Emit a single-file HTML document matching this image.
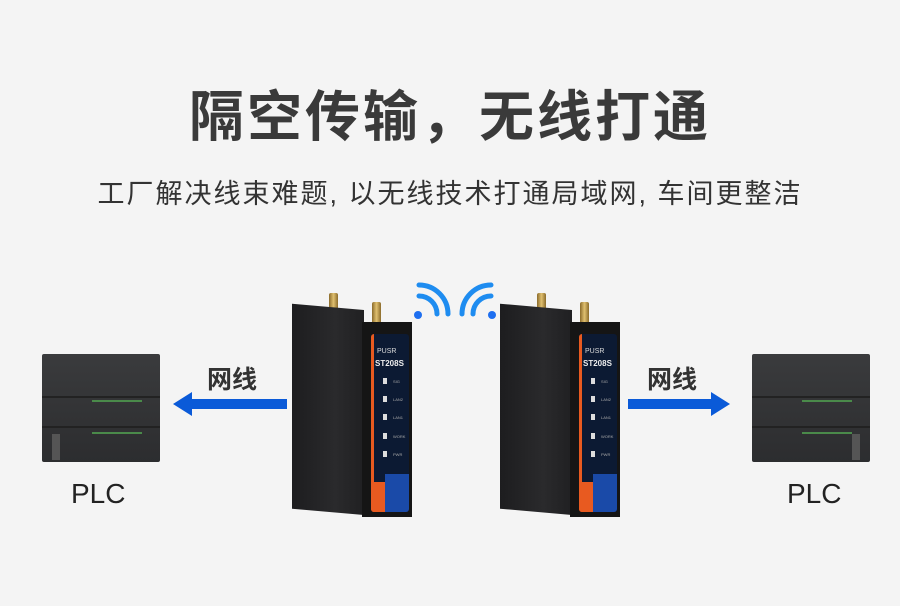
<!DOCTYPE html><html><head><meta charset="utf-8"><style>
body{margin:0;width:900px;height:606px;background:#f4f4f4;position:relative;overflow:hidden;font-family:"Liberation Sans","Noto Sans CJK SC",sans-serif}
.a{position:absolute}
.t{left:0;width:900px;text-align:center;color:#333}
.side{background:linear-gradient(90deg,#1d1d1f,#2a2a2c 60%,#202022);}
.front{background:#151515}
.panel{background:#0c1a33;border-radius:3px;overflow:hidden}
.led{position:absolute;width:4px;height:6px;background:#ddd;left:12px}
.lt{position:absolute;left:22px;font-size:4px;color:#aaa}
.ant{background:linear-gradient(90deg,#8a6a2a,#e0c070,#8a6a2a);border-radius:2px}
.plc{background:linear-gradient(180deg,#3a3b3d,#2c2d2f);border-radius:2px}
</style></head><body>
<div class="a t" style="top:72px;font-size:55px;font-weight:bold;letter-spacing:3px;color:#3a3a3a">隔空传输，无线打通</div>
<div class="a t" style="top:172px;font-size:27px;letter-spacing:2px">工厂解决线束难题, 以无线技术打通局域网, 车间更整洁</div>

<div>
<div class="a ant" style="left:329px;top:293px;width:9px;height:24px"></div>
<div class="a ant" style="left:372px;top:302px;width:9px;height:26px"></div>
<div class="a side" style="left:292px;top:310px;width:72px;height:205px;transform:skewY(5deg);transform-origin:right top"></div>
<div class="a front" style="left:362px;top:322px;width:50px;height:195px"></div>
<div class="a panel" style="left:371px;top:334px;width:38px;height:178px">
 <div class="a" style="left:0;top:0;width:3px;height:178px;background:#e85a20"></div>
 <div class="a" style="left:0;top:148px;width:14px;height:30px;background:#e85a20"></div>
 <div class="a" style="left:14px;top:140px;width:24px;height:38px;background:#1a4aa8"></div>
 <div class="a" style="left:6px;top:14px;font-size:7px;color:#ddd">PUSR</div>
 <div class="a" style="left:4px;top:25px;font-size:8px;font-weight:bold;color:#eee">ST208S</div>
 <div class="led" style="top:44px"></div><div class="lt" style="top:45px">SIG</div>
 <div class="led" style="top:62px"></div><div class="lt" style="top:63px">LAN2</div>
 <div class="led" style="top:80px"></div><div class="lt" style="top:81px">LAN1</div>
 <div class="led" style="top:99px"></div><div class="lt" style="top:100px">WORK</div>
 <div class="led" style="top:117px"></div><div class="lt" style="top:118px">PWR</div>
</div>
</div>
<div class="a" style="left:208px;top:0;width:900px;height:606px">
<div class="a ant" style="left:329px;top:293px;width:9px;height:24px"></div>
<div class="a ant" style="left:372px;top:302px;width:9px;height:26px"></div>
<div class="a side" style="left:292px;top:310px;width:72px;height:205px;transform:skewY(5deg);transform-origin:right top"></div>
<div class="a front" style="left:362px;top:322px;width:50px;height:195px"></div>
<div class="a panel" style="left:371px;top:334px;width:38px;height:178px">
 <div class="a" style="left:0;top:0;width:3px;height:178px;background:#e85a20"></div>
 <div class="a" style="left:0;top:148px;width:14px;height:30px;background:#e85a20"></div>
 <div class="a" style="left:14px;top:140px;width:24px;height:38px;background:#1a4aa8"></div>
 <div class="a" style="left:6px;top:14px;font-size:7px;color:#ddd">PUSR</div>
 <div class="a" style="left:4px;top:25px;font-size:8px;font-weight:bold;color:#eee">ST208S</div>
 <div class="led" style="top:44px"></div><div class="lt" style="top:45px">SIG</div>
 <div class="led" style="top:62px"></div><div class="lt" style="top:63px">LAN2</div>
 <div class="led" style="top:80px"></div><div class="lt" style="top:81px">LAN1</div>
 <div class="led" style="top:99px"></div><div class="lt" style="top:100px">WORK</div>
 <div class="led" style="top:117px"></div><div class="lt" style="top:118px">PWR</div>
</div>
</div>

<svg class="a" style="left:405px;top:280px" width="100" height="45" viewBox="0 0 100 45">
<g fill="none" stroke="#1e8cf0" stroke-width="5" stroke-linecap="round">
<path d="M14 16 A18 18 0 0 1 32 34"/><path d="M14 5 A29 29 0 0 1 43 34"/>
<path d="M86 16 A18 18 0 0 0 68 34"/><path d="M86 5 A29 29 0 0 0 57 34"/></g>
<circle cx="13" cy="35" r="4" fill="#1e6ff0"/><circle cx="87" cy="35" r="4" fill="#1e6ff0"/>
</svg>

<div class="a plc" style="left:42px;top:354px;width:118px;height:108px">
 <div class="a" style="left:0;top:42px;width:118px;height:2px;background:#222"></div>
 <div class="a" style="left:0;top:72px;width:118px;height:2px;background:#222"></div>
 <div class="a" style="left:50px;top:46px;width:50px;height:2px;background:#4a8a4a"></div>
 <div class="a" style="left:50px;top:78px;width:50px;height:2px;background:#4a8a4a"></div>
 <div class="a" style="left:10px;top:80px;width:8px;height:26px;background:#555"></div>
</div>
<div class="a plc" style="left:752px;top:354px;width:118px;height:108px">
 <div class="a" style="left:0;top:42px;width:118px;height:2px;background:#222"></div>
 <div class="a" style="left:0;top:72px;width:118px;height:2px;background:#222"></div>
 <div class="a" style="left:50px;top:46px;width:50px;height:2px;background:#4a8a4a"></div>
 <div class="a" style="left:50px;top:78px;width:50px;height:2px;background:#4a8a4a"></div>
 <div class="a" style="right:10px;top:80px;width:8px;height:26px;background:#555"></div>
</div>

<svg class="a" style="left:170px;top:390px" width="120" height="28"><polygon points="3,14 22,2 22,9 117,9 117,19 22,19 22,26" fill="#0a5ad8"/></svg>
<svg class="a" style="left:625px;top:390px" width="108" height="28"><polygon points="105,14 86,2 86,9 3,9 3,19 86,19 86,26" fill="#0a5ad8"/></svg>

<div class="a" style="left:207px;top:360px;font-size:25px;font-weight:bold;color:#333">网线</div>
<div class="a" style="left:647px;top:360px;font-size:25px;font-weight:bold;color:#333">网线</div>
<div class="a" style="left:71px;top:478px;font-size:28px;color:#222">PLC</div>
<div class="a" style="left:787px;top:478px;font-size:28px;color:#222">PLC</div>
</body></html>
